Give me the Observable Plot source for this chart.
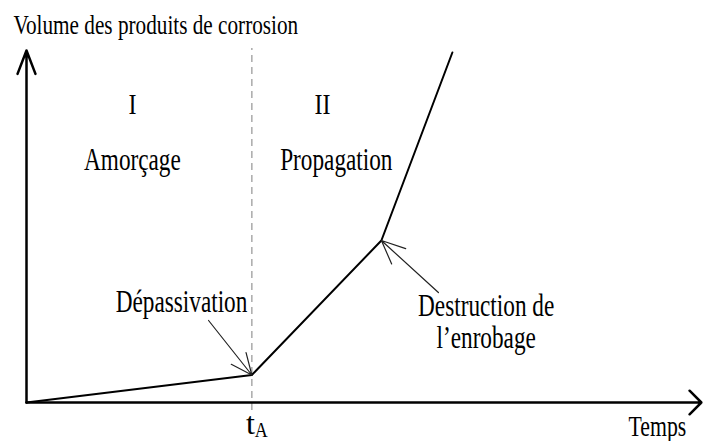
<!DOCTYPE html>
<html><head><meta charset="utf-8">
<script src="https://cdn.jsdelivr.net/npm/d3@7"></script>
<script src="https://cdn.jsdelivr.net/npm/@observablehq/plot@0.6"></script>
<style>body{margin:0;background:#fff}</style>
</head><body><div id="chart"></div>
<script>
// ---- data (arbitrary units: time on x, corrosion volume on y) ----
const timeValues = [0, 10, 15.75, 18.9];
const volumeValues = [0, 2.75, 16.2, 35];
const tA = 10;
const phaseNumerals = ["I", "II"];
const numeralX = [4.7, 13.14];
const phaseNames = ["Amorçage", "Propagation"];
const phaseX = [4.7, 13.75];
const annotationTexts = ["Dépassivation", "Destruction de\nl’enrobage"];
const annotationX = [6.88, 20.4];
const annotationY = [9.1, 5.5];
const arrowFromX = [8.08, 18.28];
const arrowFromY = [8.2, 11.0];
const arrowToIndex = [1, 2];
const yAxisLabel = "Volume des produits de corrosion";
const xAxisLabel = "Temps";

const curve = timeValues.map((t, i) => ({t, v: volumeValues[i]}));
const phases = phaseNumerals.map((n, i) => ({n, nx: numeralX[i], name: phaseNames[i], x: phaseX[i]}));
const notes = annotationTexts.map((text, i) => ({
  text, x: annotationX[i], y: annotationY[i],
  x1: arrowFromX[i], y1: arrowFromY[i],
  x2: timeValues[arrowToIndex[i]], y2: volumeValues[arrowToIndex[i]]
}));

const serif = "'Liberation Serif', 'Times New Roman', serif";

const chart = Plot.plot({
  width: 704, height: 441,
  marginLeft: 26, marginRight: 2, marginTop: 42, marginBottom: 39,
  x: {domain: [0, 30], axis: null},
  y: {domain: [0, 36], axis: null},
  style: {fontFamily: serif, background: "white", overflow: "visible", color: "black"},
  marks: [
    Plot.ruleX([tA], {y1: -0.8, y2: 35.4, stroke: "#aaa", strokeWidth: 1.5, strokeDasharray: "7,5"}),
    Plot.arrow([{x1: 0, y1: 0, x2: 0, y2: 35.2}], {x1: "x1", y1: "y1", x2: "x2", y2: "y2", stroke: "black", strokeWidth: 2.5, headLength: 15, headAngle: 42}),
    Plot.arrow([{x1: 0, y1: 0, x2: 29.95, y2: 0}], {x1: "x1", y1: "y1", x2: "x2", y2: "y2", stroke: "black", strokeWidth: 2.5, headLength: 10, headAngle: 90}),
    Plot.line(curve, {x: "t", y: "v", stroke: "black", strokeWidth: 2}),
    Plot.arrow(notes, {x1: "x1", y1: "y1", x2: "x2", y2: "y2", stroke: "#222", strokeWidth: 1.2, headLength: 32, headAngle: 48}),
    Plot.text(phases, {x: "nx", y: 28.9, text: "n", fontSize: 30, lineAnchor: "bottom", fill: "black"}),
    Plot.text(phases, {x: "x", y: 23.3, text: "name", fontSize: 31, lineAnchor: "bottom", fill: "black"}),
    Plot.text(notes, {x: "x", y: "y", text: "text", fontSize: 31, lineAnchor: "bottom", lineHeight: 1.03, fill: "black"}),
    Plot.text([yAxisLabel], {x: -0.58, y: 36.9, text: d => d, fontSize: 28.3, textAnchor: "start", lineAnchor: "bottom", fill: "black"}),
    Plot.text([xAxisLabel], {x: 28.0, y: -3.3, text: d => d, fontSize: 29, lineAnchor: "bottom", fill: "black"}),
    Plot.text(["t"], {x: tA, y: -3.1, text: d => d, fontSize: 32, textAnchor: "end", dx: 3, lineAnchor: "bottom", fill: "black"}),
    Plot.text(["A"], {x: tA, y: -3.45, text: d => d, fontSize: 20, textAnchor: "start", dx: 3, lineAnchor: "bottom", fill: "black"})
  ]
});

// condensed lettering as in the reference (horizontal scale per text mark, in mark order)
const textScales = [0.8, 0.75, 0.75, 0.75, 0.75, 1, 0.9];
chart.querySelectorAll('g[aria-label="text"]').forEach((g, k) => {
  const s = textScales[k] ?? 0.75;
  g.querySelectorAll("text").forEach(t => {
    const tr = t.getAttribute("transform");
    if (tr) t.setAttribute("transform", tr + ` scale(${s},1)`);
    else {
      const x = +t.getAttribute("x") || 0, y = +t.getAttribute("y") || 0;
      t.setAttribute("transform", `translate(${x},${y}) scale(${s},1) translate(${-x},${-y})`);
    }
  });
});
document.getElementById("chart").append(chart);
</script>
</body></html>
